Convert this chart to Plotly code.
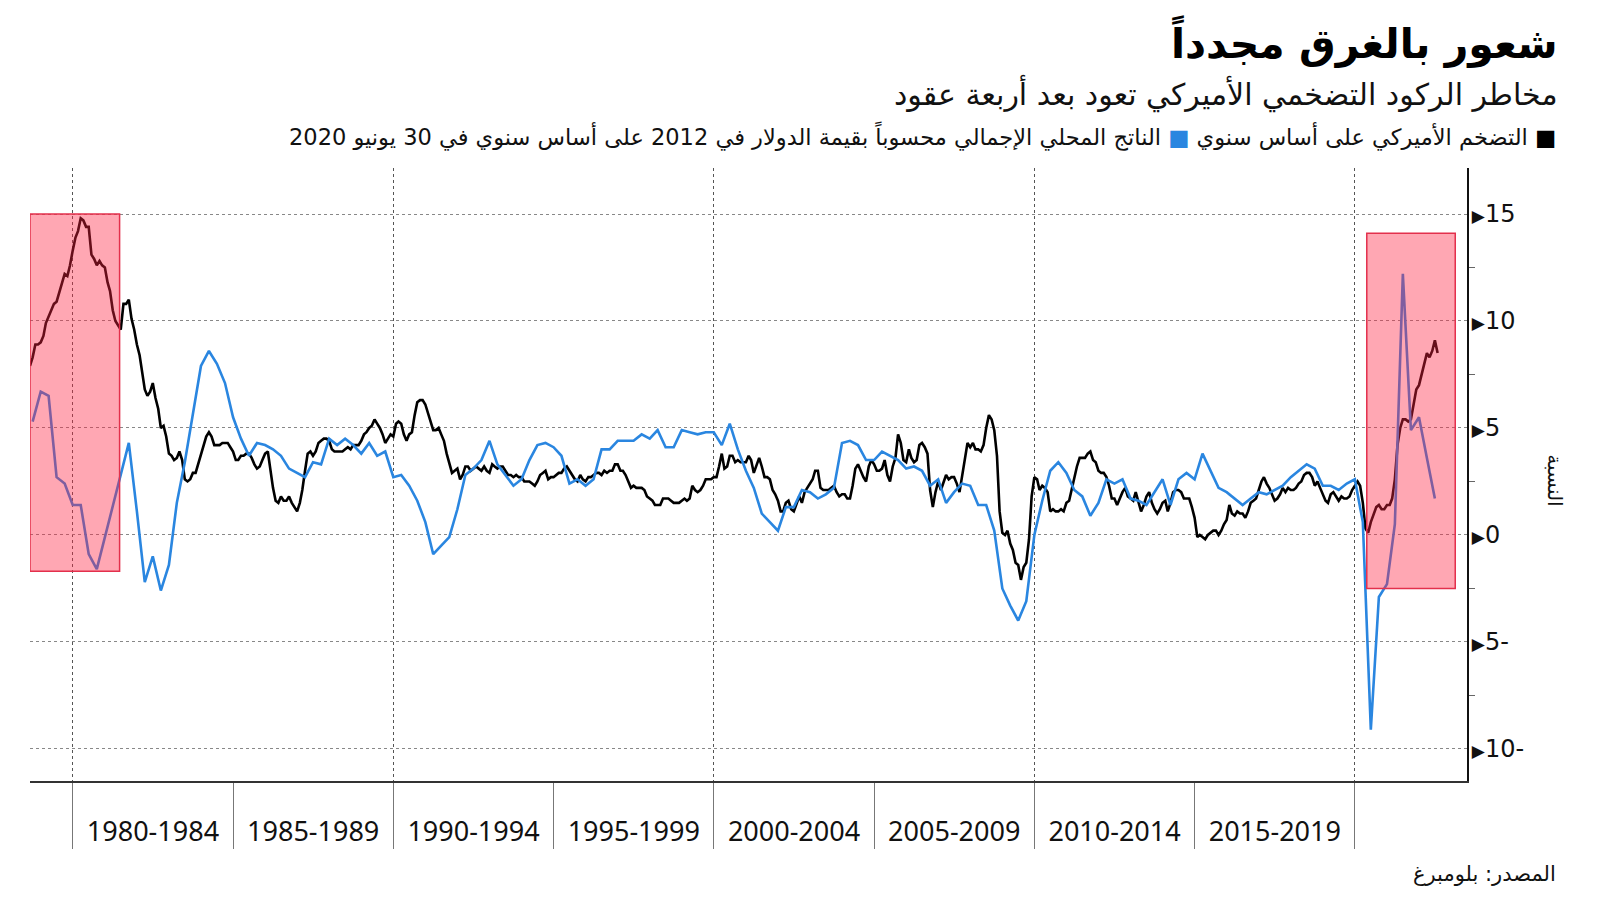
import calendar
import plotly.graph_objects as go

# ---------------- texts ----------------
TITLE = "شعور بالغرق مجدداً"
SUBTITLE = "مخاطر الركود التضخمي الأميركي تعود بعد أربعة عقود"
LEGEND_INFLATION = "التضخم الأميركي على أساس سنوي"
LEGEND_GDP = "الناتج المحلي الإجمالي محسوباً بقيمة الدولار في 2012 على أساس سنوي في 30 يونيو 2020"
SOURCE = "المصدر: بلومبرغ"
Y_TITLE = "النسبة"

# ---------------- x categories (5-year periods) ----------------
period_labels = ["1980-1984", "1985-1989", "1990-1994", "1995-1999",
                 "2000-2004", "2005-2009", "2010-2014", "2015-2019"]
period_starts = [1980, 1985, 1990, 1995, 2000, 2005, 2010, 2015, 2020]
decade_years = [1980, 1990, 2000, 2010, 2020]

# ---------------- y ticks ----------------
y_tickvals = [-10, -5, 0, 5, 10, 15]
y_ticktext = ["10-", "5-", "0", "5", "10", "15"]
y_minor_ticks = [-7.5, -2.5, 2.5, 7.5, 12.5]

# ---------------- data ----------------
# US CPI, year-over-year %, monthly, starting August 1978
inflation_start = (1978, 8)
inflation_yoy = [
    7.9, 8.3, 8.9, 8.9, 9.0,
    9.3, 9.9, 10.2, 10.5, 10.8, 10.9, 11.3, 11.8, 12.2, 12.1, 12.6, 13.3,
    13.9, 14.2, 14.8, 14.7, 14.4, 14.4, 13.1, 12.9, 12.6, 12.8, 12.6, 12.5,
    11.8, 11.4, 10.5, 10.0, 9.8, 9.6, 10.8, 10.8, 11.0, 10.1, 9.6, 8.9,
    8.4, 7.6, 6.8, 6.5, 6.7, 7.1, 6.4, 5.9, 5.0, 5.1, 4.6, 3.8,
    3.7, 3.5, 3.6, 3.9, 3.5, 2.6, 2.5, 2.6, 2.9, 2.9, 3.3, 3.8,
    4.2, 4.6, 4.8, 4.6, 4.2, 4.2, 4.2, 4.3, 4.3, 4.3, 4.1, 3.9,
    3.5, 3.5, 3.7, 3.7, 3.8, 3.8, 3.6, 3.3, 3.1, 3.2, 3.5, 3.8,
    3.9, 3.1, 2.2, 1.6, 1.5, 1.8, 1.6, 1.6, 1.8, 1.5, 1.3, 1.1,
    1.5, 2.1, 3.0, 3.8, 3.9, 3.7, 3.9, 4.3, 4.4, 4.5, 4.5, 4.4,
    4.0, 3.9, 3.9, 3.9, 3.9, 4.0, 4.1, 4.0, 4.2, 4.2, 4.2, 4.4,
    4.7, 4.8, 5.0, 5.1, 5.4, 5.2, 5.0, 4.7, 4.3, 4.5, 4.7, 4.6,
    5.2, 5.3, 5.2, 4.7, 4.4, 4.7, 4.8, 5.6, 6.2, 6.3, 6.3, 6.1,
    5.7, 5.3, 4.9, 4.9, 5.0, 4.7, 4.4, 3.8, 3.4, 2.9, 3.0, 3.1,
    2.6, 2.8, 3.2, 3.2, 3.0, 3.1, 3.2, 3.1, 3.0, 3.2, 3.0, 2.9,
    3.3, 3.2, 3.1, 3.2, 3.2, 3.0, 2.8, 2.8, 2.7, 2.8, 2.7, 2.7,
    2.5, 2.5, 2.5, 2.4, 2.3, 2.5, 2.8, 2.9, 3.0, 2.6, 2.7, 2.7,
    2.8, 2.9, 2.9, 3.1, 3.2, 3.0, 2.8, 2.6, 2.5, 2.8, 2.6, 2.5,
    2.7, 2.7, 2.8, 2.9, 2.9, 2.8, 3.0, 2.9, 3.0, 3.0, 3.3, 3.3,
    3.0, 3.0, 2.8, 2.5, 2.2, 2.3, 2.2, 2.2, 2.2, 2.1, 1.8, 1.7,
    1.6, 1.4, 1.4, 1.4, 1.7, 1.7, 1.7, 1.6, 1.5, 1.5, 1.5, 1.6,
    1.7, 1.6, 1.7, 2.3, 2.1, 2.0, 2.1, 2.3, 2.6, 2.6, 2.6, 2.7,
    2.7, 3.2, 3.8, 3.1, 3.2, 3.7, 3.7, 3.4, 3.5, 3.4, 3.4, 3.4,
    3.7, 3.5, 2.9, 3.3, 3.6, 3.2, 2.7, 2.7, 2.6, 2.1, 1.9, 1.6,
    1.1, 1.1, 1.5, 1.6, 1.2, 1.1, 1.5, 1.8, 1.5, 2.0, 2.2, 2.4,
    2.6, 3.0, 3.0, 2.2, 2.1, 2.1, 2.1, 2.2, 2.3, 2.0, 1.8, 1.9,
    1.9, 1.7, 1.7, 2.3, 3.1, 3.3, 3.0, 2.7, 2.5, 3.2, 3.5, 3.3,
    3.0, 3.0, 3.1, 3.5, 2.8, 2.5, 3.2, 3.6, 4.7, 4.3, 3.5, 3.4,
    4.0, 3.6, 3.4, 3.5, 4.2, 4.3, 4.1, 3.8, 2.1, 1.3, 2.0, 2.5,
    2.1, 2.4, 2.8, 2.6, 2.7, 2.7, 2.4, 2.0, 2.8, 3.5, 4.3, 4.1,
    4.3, 4.0, 4.0, 3.9, 4.2, 5.0, 5.6, 5.4, 4.9, 3.7, 1.1, 0.1,
    0.0, 0.2, -0.4, -0.7, -1.3, -1.4, -2.1, -1.5, -1.3, -0.2, 1.8, 2.7,
    2.6, 2.1, 2.3, 2.2, 2.0, 1.1, 1.2, 1.1, 1.1, 1.2, 1.1, 1.5,
    1.6, 2.1, 2.7, 3.2, 3.6, 3.6, 3.6, 3.8, 3.9, 3.5, 3.4, 3.0,
    2.9, 2.9, 2.7, 2.3, 1.7, 1.7, 1.4, 1.7, 2.0, 2.2, 1.8, 1.7,
    1.6, 2.0, 1.5, 1.1, 1.4, 1.8, 2.0, 1.5, 1.2, 1.0, 1.2, 1.5,
    1.6, 1.1, 1.5, 2.0, 2.1, 2.1, 2.0, 1.7, 1.7, 1.7, 1.3, 0.8,
    -0.1, 0.0, -0.1, -0.2, 0.0, 0.1, 0.2, 0.2, 0.0, 0.2, 0.5, 0.7,
    1.4, 1.0, 0.9, 1.1, 1.0, 1.0, 0.8, 1.1, 1.5, 1.6, 1.7, 2.1,
    2.5, 2.7, 2.4, 2.2, 1.9, 1.6, 1.7, 1.9, 2.2, 2.0, 2.2, 2.1,
    2.1, 2.2, 2.4, 2.5, 2.8, 2.9, 2.9, 2.7, 2.3, 2.5, 2.2, 1.9,
    1.6, 1.5, 1.9, 2.0, 1.8, 1.6, 1.8, 1.7, 1.7, 1.8, 2.1, 2.3,
    2.5, 2.3, 1.5, 0.3, 0.1, 0.6, 1.0, 1.3, 1.4, 1.2, 1.2, 1.4,
    1.4, 1.7, 2.6, 4.2, 5.0, 5.4, 5.4, 5.3, 5.4, 6.2, 6.8, 7.0,
    7.5, 7.9, 8.5, 8.3, 8.6, 9.1, 8.5,
]

# US real GDP (2012 dollars), year-over-year %, quarterly, starting Q3 1978
gdp_start = (1978, 3)
gdp_yoy = [
    5.3, 6.7,
    6.5, 2.7, 2.4, 1.4,
    1.4, -0.9, -1.6, -0.1,
    1.4, 2.9, 4.3, 1.1,
    -2.2, -1.0, -2.6, -1.4,
    1.5, 3.4, 5.6, 7.9,
    8.6, 8.0, 7.1, 5.5,
    4.5, 3.7, 4.3, 4.2,
    4.0, 3.7, 3.1, 2.9,
    2.7, 3.4, 3.3, 4.5,
    4.2, 4.5, 4.2, 3.8,
    4.3, 3.7, 3.9, 2.7,
    2.8, 2.3, 1.6, 0.6,
    -0.9, -0.5, -0.1, 1.2,
    2.8, 3.1, 3.5, 4.4,
    3.3, 2.8, 2.3, 2.6,
    3.5, 4.2, 4.3, 4.1,
    3.7, 2.4, 2.6, 2.3,
    2.6, 4.0, 4.0, 4.4,
    4.4, 4.4, 4.7, 4.5,
    4.9, 4.1, 4.1, 4.9,
    4.8, 4.7, 4.8, 4.8,
    4.2, 5.2, 4.0, 3.0,
    2.2, 1.0, 0.6, 0.2,
    1.3, 1.3, 2.1, 2.0,
    1.7, 1.9, 2.2, 4.3,
    4.4, 4.2, 3.5, 3.5,
    3.9, 3.7, 3.5, 3.1,
    3.2, 3.0, 2.3, 2.6,
    1.5, 2.0, 2.4, 2.3,
    1.4, 1.4, 0.2, -2.5,
    -3.3, -4.0, -3.1, 0.0,
    1.6, 3.0, 3.4, 2.9,
    2.1, 1.8, 0.9, 1.5,
    2.6, 2.4, 2.6, 1.7,
    1.6, 1.4, 2.0, 2.6,
    1.4, 2.6, 2.9, 2.6,
    3.8, 3.0, 2.2, 2.0,
    1.7, 1.4, 1.7, 2.0,
    1.9, 2.1, 2.3, 2.7,
    3.0, 3.3, 3.1, 2.3,
    2.3, 2.1, 2.4, 2.6,
    0.6, -9.1, -2.9, -2.3,
    0.5, 12.2, 4.9, 5.5,
    3.6, 1.7,
]

# highlighted stagflation periods: (start, end, low, high)
highlight_periods = [
    ("1978-08-31", "1981-06-17", -1.7, 15.0),
    ("2020-05-15", "2023-02-17", -2.5, 14.1),
]
x_range = ["1978-08-31", "2023-07-01"]
y_range = [-11.5, 17.15]


# ---------------- date helpers ----------------
def month_end_dates(start, n):
    y, m = start
    out = []
    for _ in range(n):
        d = calendar.monthrange(y, m)[1]
        out.append(f"{y:04d}-{m:02d}-{d:02d}")
        m += 1
        if m > 12:
            m = 1
            y += 1
    return out


def quarter_end_dates(start, n):
    y, q = start
    ends = {1: "03-31", 2: "06-30", 3: "09-30", 4: "12-31"}
    out = []
    for _ in range(n):
        out.append(f"{y:04d}-{ends[q]}")
        q += 1
        if q > 4:
            q = 1
            y += 1
    return out


inflation_dates = month_end_dates(inflation_start, len(inflation_yoy))
gdp_dates = quarter_end_dates(gdp_start, len(gdp_yoy))

label_positions = [f"{y + 2}-07-02" for y in period_starts[:-1]]
decade_positions = [f"{y}-01-01" for y in decade_years]
half_decade_positions = [f"{y}-01-01" for y in period_starts if y not in decade_years]

BLUE = "#2a86e0"
ARABIC_FONT = "DejaVu Sans"

fig = go.Figure()
fig.add_trace(go.Scatter(
    x=inflation_dates, y=inflation_yoy, mode="lines",
    line=dict(color="#000000", width=2.6), name=LEGEND_INFLATION,
    showlegend=False,
))
# GDP is drawn against the (matching) label axis x2, which sits on top of x
fig.add_trace(go.Scatter(
    x=gdp_dates, y=gdp_yoy, mode="lines", xaxis="x2", yaxis="y",
    line=dict(color=BLUE, width=2.6), name=LEGEND_GDP,
    showlegend=False,
))

for x0, x1, y0, y1 in highlight_periods:
    fig.add_shape(type="rect", xref="x", yref="y", x0=x0, x1=x1, y0=y0, y1=y1,
                  fillcolor="rgba(255,35,65,0.40)",
                  line=dict(color="#e3304c", width=1.5), layer="above")

tri = "<span style='font-size:17px'>▶</span>"
fig.update_layout(
    width=1600, height=901,
    # the page body adds an 8px offset; margins compensate for it
    margin=dict(l=22, r=141, t=160, b=128),
    paper_bgcolor="white", plot_bgcolor="white",
    xaxis=dict(
        type="date", range=x_range,
        tickmode="array", tickvals=decade_positions, showticklabels=False,
        ticks="outside", ticklen=66, tickcolor="#777777", tickwidth=1,
        showgrid=True, gridcolor="#555555", gridwidth=1, griddash="dot",
        zeroline=False,
        showline=True, linecolor="#333333", linewidth=2,
        minor=dict(tickmode="array", tickvals=half_decade_positions, ticks="outside",
                   ticklen=66, tickcolor="#777777", tickwidth=1, showgrid=False),
    ),
    xaxis2=dict(
        type="date", overlaying="x", matches="x", anchor="y", side="bottom",
        tickmode="array", tickvals=label_positions, ticktext=period_labels,
        ticks="outside", ticklen=27, tickcolor="rgba(0,0,0,0)",
        tickfont=dict(family="Noto Sans", size=27, color="#111111"),
        showgrid=False, showline=False, zeroline=False,
    ),
    yaxis=dict(
        side="right", range=y_range,
        tickmode="array", tickvals=y_tickvals,
        ticktext=[tri + t for t in y_ticktext],
        ticks="", ticklabelstandoff=-2,
        tickfont=dict(family="DejaVu Sans", size=24, color="#111111"),
        showgrid=True, gridcolor="#888888", gridwidth=1, griddash="dot",
        zeroline=False, showline=True, linecolor="#111111", linewidth=2,
        minor=dict(tickmode="array", tickvals=y_minor_ticks, ticks="outside",
                   ticklen=6, tickcolor="#666666", tickwidth=1, showgrid=False),
    ),
    yaxis2=dict(
        overlaying="y", matches="y", anchor="x", side="left",
        showline=True, linecolor="#8a8a8a", linewidth=1.5,
        showgrid=False, zeroline=False, showticklabels=False, ticks="",
    ),
)

legend_text = ("\u200f<span style='color:#000000'>■</span> " + LEGEND_INFLATION +
               " <span style='color:" + BLUE + "'>■</span> " + LEGEND_GDP)

annotations = [
    dict(text="<b>" + TITLE + "</b>", x=1.065, y=1.207, font=dict(size=41, family=ARABIC_FONT, color="#000")),
    dict(text=SUBTITLE, x=1.065, y=1.121, font=dict(size=30, family=ARABIC_FONT, color="#111")),
    dict(text=legend_text, x=1.063, y=1.052, font=dict(size=22.5, family=ARABIC_FONT, color="#111")),
    dict(text=SOURCE, x=1.063, y=-0.152, font=dict(size=21, family=ARABIC_FONT, color="#111")),
]
for a in annotations:
    a.update(xref="paper", yref="paper", xanchor="right", yanchor="middle", showarrow=False)
    fig.add_annotation(**a)

fig.add_annotation(text=Y_TITLE, xref="paper", yref="paper", x=1.061, y=0.491,
                   textangle=90, showarrow=False, xanchor="center", yanchor="middle",
                   font=dict(size=20, family=ARABIC_FONT, color="#111"))

fig.write_html("out.html")
